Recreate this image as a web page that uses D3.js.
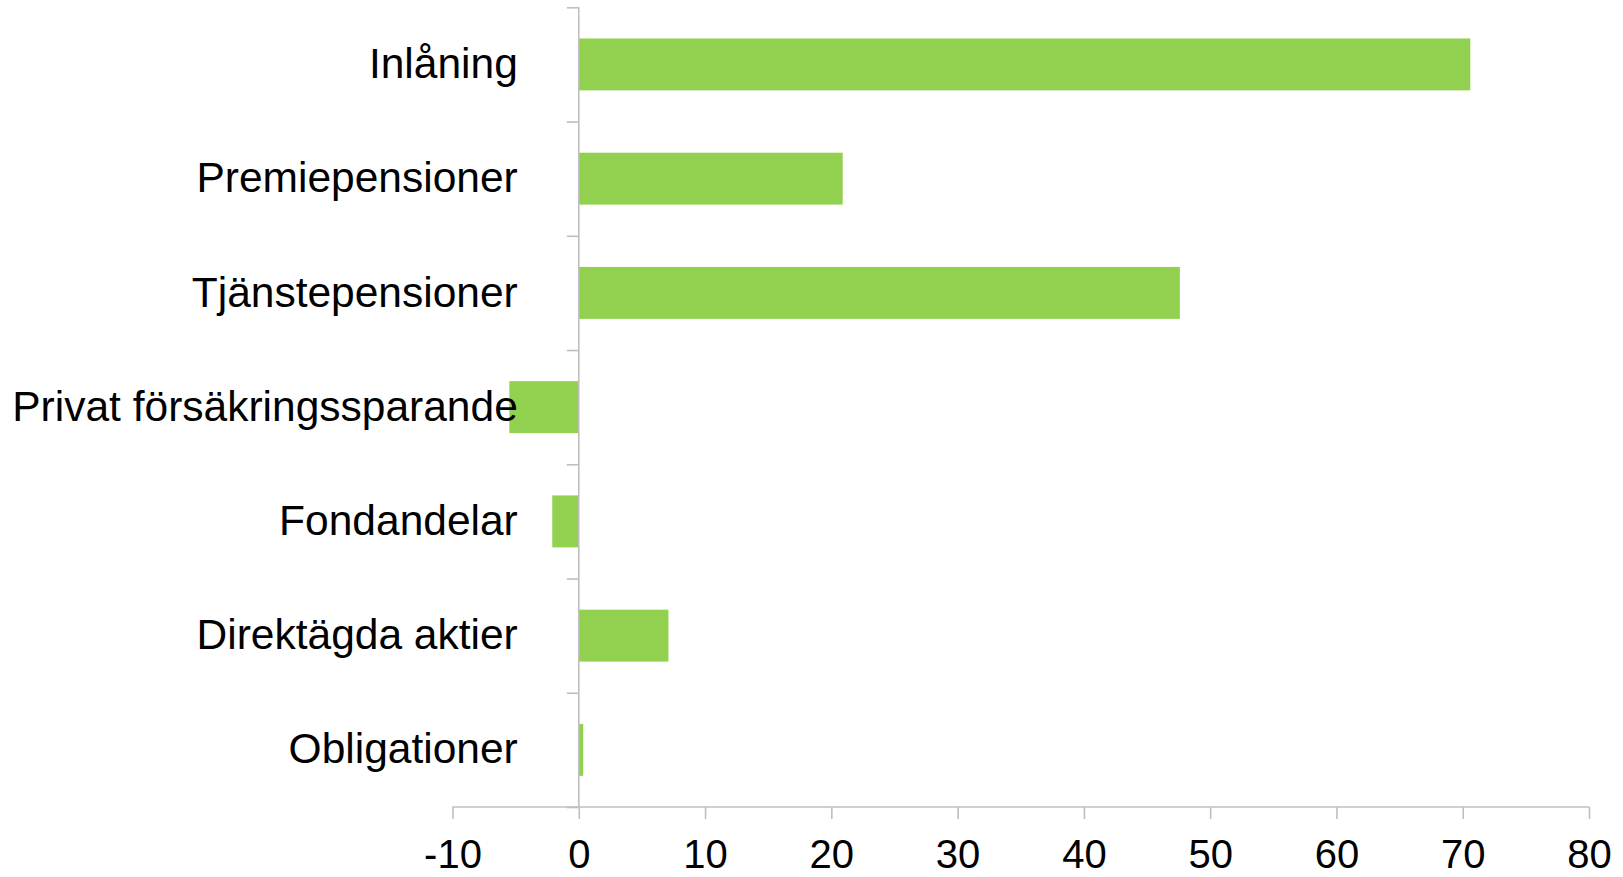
<!DOCTYPE html>
<html>
<head>
<meta charset="utf-8">
<script src="https://cdn.jsdelivr.net/npm/d3@7"></script>
<style>
  html, body { margin: 0; padding: 0; background: #fff; }
  svg { display: block; font-family: "Liberation Sans", Arial, sans-serif; }
</style>
</head>
<body>
<svg id="chart" width="1623" height="877"></svg>
<script>
const categories = ["Inlåning", "Premiepensioner", "Tjänstepensioner", "Privat försäkringssparande", "Fondandelar", "Direktägda aktier", "Obligationer"];
const values = [70.6, 20.9, 47.6, -5.5, -2.1, 7.1, 0.35];
const xTicks = [-10, 0, 10, 20, 30, 40, 50, 60, 70, 80];

(function () {
const svg = d3.select("#chart");
const axisColor = "#bfbfbf";
const barColor = "#92d050";

const x = d3.scaleLinear().domain([-10, 80]).range([452.5, 1589]);
const plotTop = 7.3, plotBottom = 807;
const gap = 1.2 / 2.2;
const y = d3.scaleBand().domain(categories).range([plotTop, plotBottom]).paddingInner(gap).paddingOuter(gap / 2);

// bars
svg.append("g").selectAll("rect").data(values).join("rect")
  .attr("x", (d) => x(Math.min(0, d)))
  .attr("width", (d) => Math.abs(x(d) - x(0)))
  .attr("y", (d, i) => y(categories[i]))
  .attr("height", y.bandwidth())
  .attr("fill", barColor);

// x axis
const xAxis = svg.append("g")
  .attr("transform", `translate(0,${plotBottom})`)
  .call(d3.axisBottom(x).tickValues(xTicks).tickSize(12).tickPadding(21).tickFormat((d) => String(d)));
xAxis.select(".domain").attr("stroke", axisColor).attr("stroke-width", 1.6).attr("d", `M${x(-10)},0H${x(80)}`);
xAxis.selectAll(".tick line").attr("stroke", axisColor).attr("stroke-width", 1.6);
xAxis.selectAll(".tick text").attr("fill", "#000").attr("font-size", 40).attr("font-family", "Liberation Sans, Arial, sans-serif");

// y axis: boundary ticks
const boundaryScale = d3.scaleLinear().domain([0, categories.length]).range([plotTop, plotBottom]);
const yTicksAxis = svg.append("g")
  .attr("transform", `translate(${x(0)},0)`)
  .call(d3.axisLeft(boundaryScale).tickValues(d3.range(0, categories.length + 1)).tickSize(12).tickFormat(""));
yTicksAxis.select(".domain").attr("stroke", axisColor).attr("stroke-width", 1.6).attr("d", `M0,${plotTop}V${plotBottom}`);
yTicksAxis.selectAll(".tick line").attr("stroke", axisColor).attr("stroke-width", 1.6);

// category labels
const yLabels = svg.append("g")
  .attr("transform", `translate(${x(0)},0)`)
  .call(d3.axisLeft(y).tickSize(0).tickPadding(61));
yLabels.select(".domain").remove();
yLabels.selectAll(".tick text").attr("fill", "#000").attr("font-size", 42.5).attr("font-family", "Liberation Sans, Arial, sans-serif");
})();
</script>
</body>
</html>
